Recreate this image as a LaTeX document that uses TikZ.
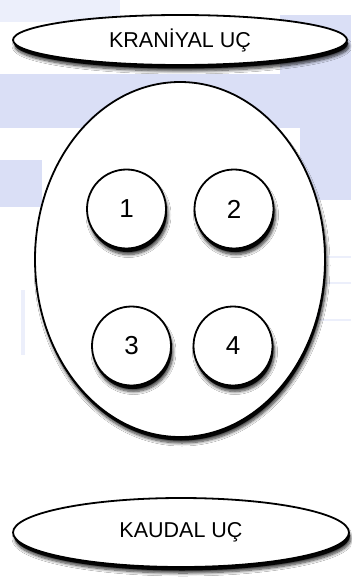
\documentclass[tikz,border=0pt]{standalone}
\usepackage{fontspec}
\setmainfont{Liberation Sans}
\usetikzlibrary{shapes.geometric,shadows,shadows.blur}
\definecolor{wm}{RGB}{218,223,246}
\definecolor{wmlight}{RGB}{236,239,251}
\tikzset{
  sh/.style={
    blur shadow={shadow xshift=2pt, shadow yshift=-6pt, shadow blur radius=3pt, shadow blur steps=8, shadow opacity=80},
    drop shadow={shadow xshift=1pt, shadow yshift=-3.5pt, fill=black, opacity=0.9}},
  oval/.style={ellipse, draw=black, line width=1.8pt, fill=white, inner sep=0pt, sh},
  disc/.style={circle, draw=black, line width=1.8pt, fill=white, inner sep=0pt, minimum size=79pt, sh, font=\fontsize{26}{30}\selectfont},
  lbl/.style={font=\fontsize{21.5}{25}\selectfont}
}
\begin{document}
\begin{tikzpicture}[x=1pt,y=-1pt]
\fill[white] (0,0) rectangle (351,577);
\useasboundingbox (0,0) rectangle (351,577);
% faint watermark background
\fill[wmlight] (0,0) rectangle (120,22);
\fill[wm] (280,15) rectangle (351,80);
\fill[wm] (0,74) rectangle (351,128);
\fill[wm] (300,128) rectangle (351,200);
\fill[wm] (0,160) rectangle (42,207);
\fill[wmlight] (21,290) rectangle (25,355);
\fill[wmlight] (300,256) rectangle (351,258);
\fill[wmlight] (300,282) rectangle (351,284);
\fill[wmlight] (300,319) rectangle (351,321);
% shapes
\node[oval, minimum width=334pt, minimum height=50pt, lbl] (top) at (180,40) {KRANİYAL UÇ};
\node[oval, minimum width=290pt, minimum height=355pt] (body) at (180,259.5) {};
\node[oval, minimum width=336pt, minimum height=69pt, lbl] (bot) at (181,532.5) {KAUDAL UÇ};
\node[disc] (c1) at (126.5,209) {1};
\node[disc] (c2) at (234,209) {2};
\node[disc] (c3) at (131.5,346) {3};
\node[disc] (c4) at (233,346) {4};
\end{tikzpicture}
\end{document}
